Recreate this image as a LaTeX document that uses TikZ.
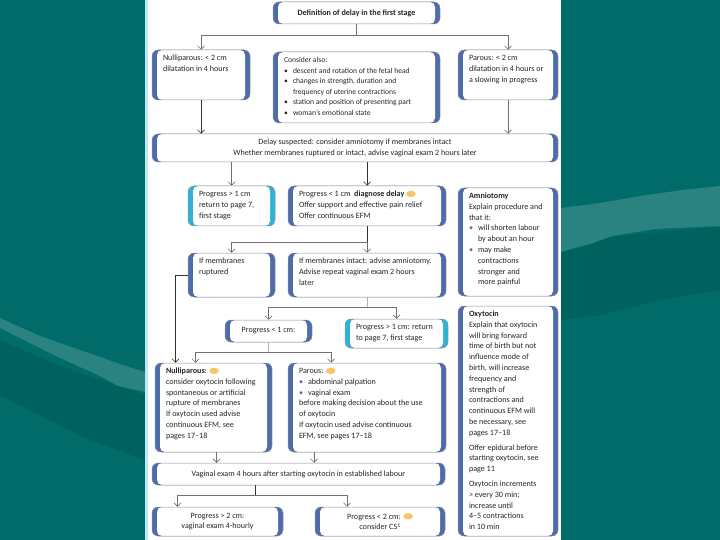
\documentclass[tikz,border=0pt]{standalone}
\usepackage{fontspec}
\setmainfont{Carlito}
\usetikzlibrary{arrows.meta,calc}
\definecolor{bgteal}{HTML}{006B69}
\definecolor{bglight}{HTML}{2A8380}
\definecolor{bgdark}{HTML}{00625F}
\definecolor{capblue}{HTML}{4E6BAA}
\definecolor{capcyan}{HTML}{2DB3D5}
\definecolor{edgegray}{HTML}{8C9099}
\definecolor{txt}{HTML}{262626}
\definecolor{linec}{HTML}{707070}
\definecolor{linedark}{HTML}{333333}
\definecolor{linelight}{HTML}{B0B0B0}
\definecolor{iconc}{HTML}{F6C66E}
\definecolor{panelcyan}{HTML}{BDEAF2}
\newcommand\ogi{\tikz[baseline=-2.7pt]\fill[iconc] (0pt,0pt) ellipse [x radius=4.8pt, y radius=3.2pt];}
\newcommand\bul[1][txt]{\makebox[9pt][l]{\textcolor{#1}{\textbullet}}}
\newcommand\ind{\hspace*{9pt}}
\newcommand\lbox[7]{%
 \pgfmathsetmacro\bw{#4-#2}\pgfmathsetmacro\bh{#5-#3}%
 \pgfmathsetmacro\cx{(#2+#4)/2}\pgfmathsetmacro\cy{(#3+#5)/2}%
 \node[fbox=#6, minimum width=\bw pt, minimum height=\bh pt] (#1) at (\cx,\cy)
  {\parbox[c][\bh pt][t]{\bw pt}{\vspace*{3pt}\parindent=0pt\leftskip=11pt\rightskip=0pt plus 1fil\strut #7}};}
\newcommand\cbox[7]{%
 \pgfmathsetmacro\bw{#4-#2}\pgfmathsetmacro\bh{#5-#3}%
 \pgfmathsetmacro\cx{(#2+#4)/2}\pgfmathsetmacro\cy{(#3+#5)/2}%
 \node[fbox=#6, minimum width=\bw pt, minimum height=\bh pt] (#1) at (\cx,\cy)
  {\parbox[c][\bh pt][c]{\bw pt}{\centering #7}};}
\tikzset{
 fbox/.style={draw=edgegray, line width=0.5pt, rounded corners=6pt, fill=white,
   inner sep=0pt, text=txt, font=\fontsize{8.1}{10.8}\selectfont,
   path picture={\fill[#1] (path picture bounding box.south west) rectangle (path picture bounding box.north east);
     \fill[white, rounded corners=5pt] ([xshift=5pt]path picture bounding box.south west) rectangle ([xshift=-5pt]path picture bounding box.north east);}},
 fbox/.default=capblue,
 conn/.style={draw=linec, line width=0.6pt},
 arr/.style={conn, -{Straight Barb[length=3.5pt,width=7pt]}},
 lt/.style={draw=linelight},
 dk/.style={draw=linedark},
}
\begin{document}
\begin{tikzpicture}[x=1pt,y=-1pt]
\useasboundingbox (0,0) rectangle (720,540);
% background
\fill[bgteal] (0,0) rectangle (720,540);
\fill[bgdark] (0,340) -- (60,366) -- (145,395) -- (145,460) -- (90,440) -- (0,395) -- cycle;
\fill[bglight] (0,318) -- (40,336) -- (80,350) -- (120,364) -- (145,372) -- (145,392) -- (118,386) -- (100,376) -- (60,358) -- (20,338) -- (0,328) -- cycle;
\fill[bgdark] (561,245) -- (620,236) -- (680,230) -- (720,227) -- (720,290) -- (660,300) -- (600,315) -- (561,320) -- cycle;
\fill[bglight] (561,208) -- (600,203) -- (640,196) -- (682,190) -- (720,186) -- (720,226) -- (655,229) -- (612,236) -- (590,244) -- (561,252) -- cycle;
% panel
\fill[white] (145,0) rectangle (561,540);
\fill[panelcyan] (145,0) rectangle (148,540);
% boxes
\cbox{title}{273}{2}{440}{24}{capblue}{\textbf{Definition of delay in the first stage}}
\lbox{nul}{152}{50}{250}{100}{capblue}{Nulliparous: < 2 cm\\dilatation in 4 hours}
\lbox{cons}{273}{52}{440}{123}{capblue}{\fontsize{7.6}{10.6}\selectfont Consider also:\\
\bul descent and rotation of the fetal head\\
\bul changes in strength, duration and\\
\ind frequency of uterine contractions\\
\bul station and position of presenting part\\
\bul woman’s emotional state}
\lbox{par}{458}{50}{558}{100}{capblue}{Parous: < 2 cm\\dilatation in 4 hours or\\a slowing in progress}
\cbox{delay}{152}{134}{558}{162}{capblue}{Delay suspected: consider amniotomy if membranes intact\\Whether membranes ruptured or intact, advise vaginal exam 2 hours later}
\lbox{pa}{188}{186}{275}{226}{capcyan}{Progress > 1 cm\\return to page 7,\\first stage}
\lbox{pb}{288}{186}{446}{226}{capblue}{Progress < 1 cm \ \textbf{diagnose delay} \ogi\\Offer support and effective pain relief\\Offer continuous EFM}
\lbox{amn}{458}{188}{558}{296}{capblue}{\textbf{Amniotomy}\\Explain procedure and\\that it:\\
\bul[capblue]will shorten labour\\\ind by about an hour\\
\bul[capblue]may make\\\ind contractions\\\ind stronger and\\\ind more painful}
\lbox{rup}{188}{253}{275}{297}{capblue}{If membranes\\ruptured}
\lbox{intact}{288}{253}{446}{297}{capblue}{If membranes intact: advise amniotomy.\\Advise repeat vaginal exam 2 hours\\later}
\cbox{pc}{225}{320}{312}{342}{capblue}{Progress < 1 cm:}
\lbox{pd}{345}{319}{448}{348}{capcyan}{Progress > 1 cm: return\\to page 7, first stage}
\lbox{oxy}{458}{306}{558}{536}{capblue}{\textbf{Oxytocin}\\Explain that oxytocin\\will bring forward\\time of birth but not\\influence mode of\\birth, will increase\\frequency and\\strength of\\contractions and\\continuous EFM will\\be necessary, see\\pages 17–18\\[4pt]
Offer epidural before\\starting oxytocin, see\\page 11\\[4pt]
Oxytocin increments\\> every 30 min;\\increase until\\4–5 contractions\\in 10 min}
\lbox{nulb}{155}{363}{272}{452}{capblue}{\textbf{Nulliparous}: \ogi\\consider oxytocin following\\spontaneous or artificial\\rupture of membranes\\If oxytocin used advise\\continuous EFM, see\\pages 17–18}
\lbox{parb}{288}{363}{446}{452}{capblue}{Parous: \ogi\\\bul[capblue]abdominal palpation\\\bul[capblue]vaginal exam\\before making decision about the use\\of oxytocin\\If oxytocin used advise continuous\\EFM, see pages 17–18}
\cbox{vag}{152}{463}{445}{485}{capblue}{Vaginal exam 4 hours after starting oxytocin in established labour}
\cbox{pe}{152}{507}{283}{536}{capblue}{Progress > 2 cm:\\vaginal exam 4-hourly}
\cbox{pf}{315}{507}{445}{536}{capblue}{Progress < 2 cm: \ogi\\consider CS\textsuperscript{1}}
% connectors
\coordinate (j1) at ($(title.south)+(0,11)$);
\draw[conn] (title.south) -- (j1);
\draw[arr] (j1) -| (nul.north);
\draw[arr] (j1) -| (par.north);
\draw[arr,dk] (nul.south) -- (nul.south |- delay.north);
\draw[arr] (par.south) -- (par.south |- delay.north);
\draw[arr] (pa.north |- delay.south) -- (pa.north);
\draw[arr,dk] (pb.north |- delay.south) -- (pb.north);
\coordinate (j2) at ($(pb.south)+(0,16)$);
\draw[conn,dk] (pb.south) -- (j2);
\draw[arr] (j2) -| (rup.north);
\draw[arr] (j2) -- (intact.north);
\coordinate (j3) at ($(intact.south)+(0,10)$);
\draw[conn,lt] (intact.south) -- (j3);
\draw[arr] (j3) -| (pc.north);
\draw[arr] (j3) -| (pd.north);
\coordinate (j4) at ($(pc.south)+(0,10)$);
\draw[conn,lt] (pc.south) -- (j4);
\draw[arr] (j4) -| ([xshift=-18pt]nulb.north);
\draw[arr] (j4) -| ([xshift=-36pt]parb.north);
\draw[arr,dk] (rup.west) -| ([xshift=-38pt]nulb.north);
\draw[arr] ([xshift=3pt]nulb.south) -- ([xshift=3pt]nulb.south |- vag.north);
\draw[arr] ([xshift=-53pt]parb.south) -- ([xshift=-53pt]parb.south |- vag.north);
\coordinate (j5) at ($([xshift=-43pt]vag.south)+(0,10)$);
\draw[conn,dk] ([xshift=-43pt]vag.south) -- (j5);
\draw[arr] (j5) -| ([xshift=-40pt]pe.north);
\draw[arr] (j5) -| ([xshift=-33pt]pf.north);
\end{tikzpicture}
\end{document}
